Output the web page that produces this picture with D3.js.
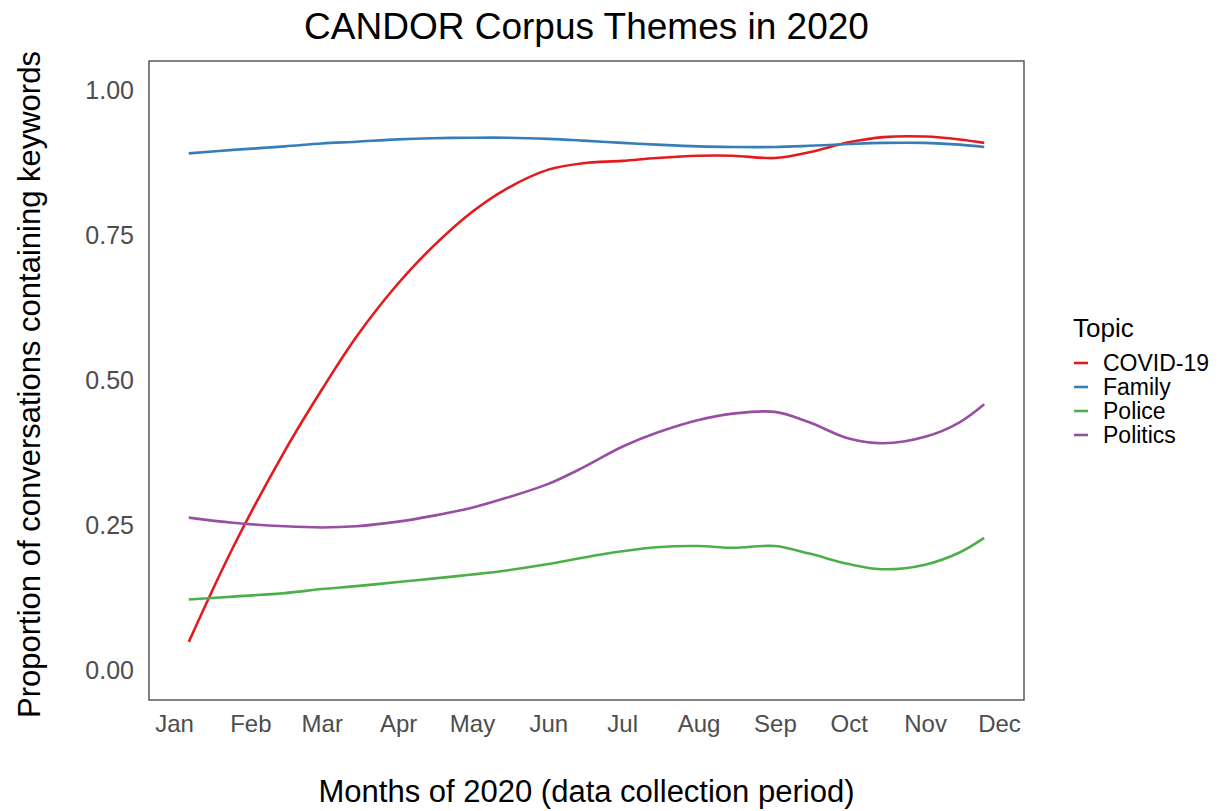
<!DOCTYPE html>
<html lang="en">
<head>
<meta charset="utf-8">
<script src="https://cdn.jsdelivr.net/npm/d3@7"></script>
<style>
  body { margin: 0; background: #fff; }
  svg text { font-family: "Liberation Sans", Arial, sans-serif; }
</style>
</head>
<body>
<script>
// sample dates (2020) along the smoothed trend lines
var dates = ["2020-01-07","2020-01-25","2020-02-15","2020-03-01","2020-03-15","2020-04-01",
             "2020-04-15","2020-05-01","2020-05-15","2020-06-01","2020-06-15","2020-07-01",
             "2020-07-15","2020-08-01","2020-08-15","2020-09-01","2020-09-15","2020-10-01",
             "2020-10-15","2020-11-01","2020-11-15","2020-11-25"];

var topics = ["COVID-19", "Family", "Police", "Politics"];
var colors = ["#E41A1C", "#377EB8", "#4DAF4A", "#984EA3"];

var covid    = [0.050, 0.213, 0.379, 0.484, 0.575, 0.667, 0.730, 0.790, 0.830, 0.863, 0.874, 0.878,
                0.883, 0.887, 0.887, 0.883, 0.893, 0.910, 0.919, 0.920, 0.915, 0.909];
var family   = [0.891, 0.897, 0.903, 0.908, 0.911, 0.915, 0.917, 0.918, 0.918, 0.916, 0.913, 0.909,
                0.906, 0.903, 0.902, 0.902, 0.904, 0.907, 0.909, 0.909, 0.906, 0.902];
var police   = [0.123, 0.128, 0.134, 0.141, 0.146, 0.153, 0.159, 0.166, 0.173, 0.184, 0.195, 0.206,
                0.213, 0.215, 0.212, 0.215, 0.202, 0.184, 0.175, 0.183, 0.204, 0.229];
var politics = [0.264, 0.255, 0.249, 0.247, 0.249, 0.257, 0.267, 0.281, 0.298, 0.322, 0.350, 0.386,
                0.410, 0.432, 0.443, 0.446, 0.428, 0.400, 0.392, 0.403, 0.428, 0.459];

var yTicks = [0, 0.25, 0.5, 0.75, 1];
var monthTicks = ["2020-01-01","2020-02-01","2020-03-01","2020-04-01","2020-05-01","2020-06-01",
                  "2020-07-01","2020-08-01","2020-09-01","2020-10-01","2020-11-01","2020-12-01"];

var seriesVals = [covid, family, police, politics];
var parse = d3.timeParse("%Y-%m-%d");
var xDates = dates.map(parse);

var W = 1222, H = 811;
var panel = {left: 149, right: 1024, top: 61, bottom: 700};

var svg = d3.select("body").append("svg")
    .attr("width", W)
    .attr("height", H);

// ggplot-like 5% expansion on x
var ext = d3.extent(xDates);
var pad = (ext[1] - ext[0]) * 0.05;
var x = d3.scaleTime()
    .domain([new Date(+ext[0] - pad), new Date(+ext[1] + pad)])
    .range([panel.left, panel.right]);

var y = d3.scaleLinear()
    .domain([-0.05, 1.05])
    .range([panel.bottom, panel.top]);

// panel border
svg.append("rect")
    .attr("x", panel.left)
    .attr("y", panel.top)
    .attr("width", panel.right - panel.left)
    .attr("height", panel.bottom - panel.top)
    .attr("fill", "none")
    .attr("stroke", "#4d4d4d")
    .attr("stroke-width", 1.4);

// axes (labels only, no tick marks)
var xAxis = d3.axisBottom(x)
    .tickValues(monthTicks.map(parse))
    .tickFormat(d3.timeFormat("%b"))
    .tickSize(0)
    .tickPadding(0);
var gx = svg.append("g")
    .attr("transform", "translate(0," + (panel.bottom + 15) + ")")
    .call(xAxis);
gx.select(".domain").remove();
gx.selectAll("text")
    .attr("dy", "0.71em")
    .style("font-size", "24px")
    .attr("fill", "#4d4d4d");

var yAxis = d3.axisLeft(y)
    .tickValues(yTicks)
    .tickFormat(d3.format(".2f"))
    .tickSize(0)
    .tickPadding(0);
var gy = svg.append("g")
    .attr("transform", "translate(" + (panel.left - 15) + ",0)")
    .call(yAxis);
gy.select(".domain").remove();
gy.selectAll("text")
    .style("font-size", "25px")
    .attr("fill", "#4d4d4d");

// lines
var line = d3.line()
    .x(function(d) { return x(d[0]); })
    .y(function(d) { return y(d[1]); })
    .curve(d3.curveCatmullRom.alpha(0.5));

topics.forEach(function(t, i) {
    var pts = xDates.map(function(d, j) { return [d, seriesVals[i][j]]; });
    svg.append("path")
        .datum(pts)
        .attr("d", line)
        .attr("fill", "none")
        .attr("stroke", colors[i])
        .attr("stroke-width", 2.6);
});

// title and axis titles
svg.append("text")
    .attr("x", (panel.left + panel.right) / 2)
    .attr("y", 39)
    .attr("text-anchor", "middle")
    .style("font-size", "37px")
    .attr("fill", "#000")
    .text("CANDOR Corpus Themes in 2020");

svg.append("text")
    .attr("x", (panel.left + panel.right) / 2)
    .attr("y", 802)
    .attr("text-anchor", "middle")
    .style("font-size", "31px")
    .attr("fill", "#000")
    .text("Months of 2020 (data collection period)");

svg.append("text")
    .attr("transform", "translate(40," + ((panel.top + panel.bottom) / 2 + 4) + ") rotate(-90)")
    .attr("text-anchor", "middle")
    .style("font-size", "31px")
    .attr("fill", "#000")
    .text("Proportion of conversations containing keywords");

// legend
var lg = svg.append("g").attr("transform", "translate(1073,0)");
lg.append("text")
    .attr("x", 0)
    .attr("y", 337)
    .style("font-size", "26px")
    .attr("fill", "#000")
    .text("Topic");

topics.forEach(function(t, i) {
    var cy = 363 + i * 24;
    lg.append("line")
        .attr("x1", 1).attr("x2", 15)
        .attr("y1", cy).attr("y2", cy)
        .attr("stroke", colors[i])
        .attr("stroke-width", 2.6);
    lg.append("text")
        .attr("x", 30)
        .attr("y", cy + 8)
        .style("font-size", "23px")
        .attr("fill", "#000")
        .text(t);
});
</script>
</body>
</html>
